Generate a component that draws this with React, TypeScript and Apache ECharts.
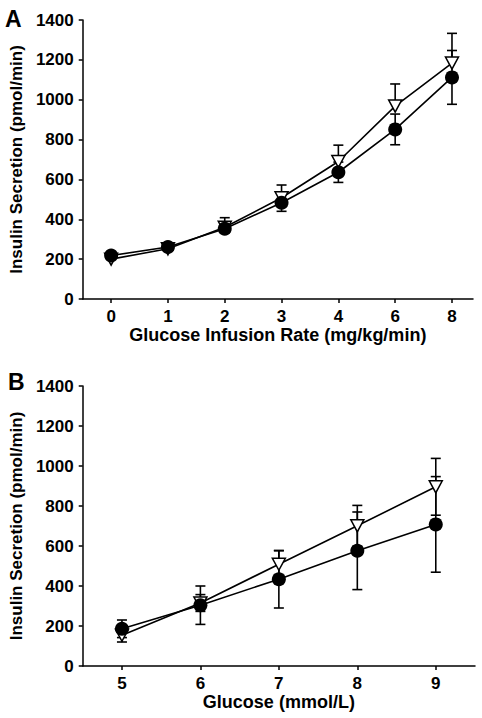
import React, { useEffect, useRef } from "react";
import * as echarts from "echarts";

const catsA = ["0", "1", "2", "3", "4", "6", "8"];
const aCircle = [218, 261, 353, 483, 636, 851, 1112];
const aCircleErr = [10, 12, 20, 43, 51, 77, 135];
const aTri = [200, 252, 360, 508, 690, 968, 1184];
const aTriErr = [8, 10, 48, 64, 82, 111, 149];

const xB = [5, 6, 7, 8, 9];
const bCircle = [186, 304, 434, 576, 708];
const bCircleErr = [44, 96, 144, 194, 239];
const bTri = [154, 315, 509, 701, 896];
const bTriErr = [34, 42, 67, 102, 142];

const yTicks = [0, 200, 400, 600, 800, 1000, 1200, 1400];

const FONT = "Liberation Sans, Arial, sans-serif";
const FS = 17;
const TRI = "path://M0,0 L12,0 L6,11 Z";

export default function App() {
  const ref = useRef<HTMLDivElement>(null);
  useEffect(() => {
    const chart = echarts.init(ref.current!, null, { renderer: "svg" });
    const xsA = catsA.map((_, i) => i);

    const errSeries = (
      xs: number[],
      ys: number[],
      errs: number[],
      upperOnly: boolean,
      idx: number
    ) => ({
      type: "custom",
      xAxisIndex: idx,
      yAxisIndex: idx,
      z: 1,
      silent: true,
      data: xs.map((x, i) => [x, ys[i], upperOnly ? ys[i] : ys[i] - errs[i], ys[i] + errs[i]]),
      renderItem: (params: any, api: any) => {
        const x = api.value(0);
        const lo = api.coord([x, api.value(2)]);
        const hi = api.coord([x, api.value(3)]);
        const style = { stroke: "#000", lineWidth: 1.6 };
        const cw = 5;
        const children: any[] = [
          { type: "line", shape: { x1: lo[0], y1: lo[1], x2: hi[0], y2: hi[1] }, style },
          { type: "line", shape: { x1: hi[0] - cw, y1: hi[1], x2: hi[0] + cw, y2: hi[1] }, style },
        ];
        if (!upperOnly) {
          children.push({ type: "line", shape: { x1: lo[0] - cw, y1: lo[1], x2: lo[0] + cw, y2: lo[1] }, style });
        }
        return { type: "group", children };
      },
    });

    const yAxisCommon = {
      type: "value",
      min: 0,
      max: 1400,
      interval: 200,
      name: "Insulin Secretion (pmol/min)",
      nameLocation: "middle",
      nameGap: 56,
      nameTextStyle: { fontFamily: FONT, fontWeight: "bold", fontSize: FS, color: "#000" },
      axisLine: { show: true, onZero: false, lineStyle: { color: "#000", width: 1.5 } },
      axisTick: { show: true, length: 4, lineStyle: { color: "#000", width: 1.5 } },
      axisLabel: {
        margin: 9,
        fontFamily: FONT,
        fontWeight: "bold",
        fontSize: FS,
        color: "#000",
        customValues: yTicks,
        formatter: (v: number) => String(v),
      },
      splitLine: { show: false },
    };

    const xAxisCommon = {
      type: "value",
      nameLocation: "middle",
      nameGap: 27,
      nameTextStyle: { fontFamily: FONT, fontWeight: "bold", fontSize: 18, color: "#000" },
      axisLine: { show: true, onZero: false, lineStyle: { color: "#000", width: 1.5 } },
      axisTick: { show: true, length: 4, lineStyle: { color: "#000", width: 1.5 } },
      splitLine: { show: false },
    };

    chart.setOption({
      animation: false,
      backgroundColor: "#fff",
      grid: [
        { left: 81, top: 20, width: 392, height: 279 },
        { left: 79, top: 386, width: 396, height: 280 },
      ],
      xAxis: [
        {
          ...xAxisCommon,
          gridIndex: 0,
          min: -0.5,
          max: 6.37,
          name: "Glucose Infusion Rate (mg/kg/min)",
          axisTick: { ...xAxisCommon.axisTick, customValues: xsA },
          axisLabel: {
            margin: 9,
            fontFamily: FONT,
            fontWeight: "bold",
            fontSize: FS,
            color: "#000",
            customValues: xsA,
            formatter: (v: number) => catsA[Math.round(v)],
          },
        },
        {
          ...xAxisCommon,
          gridIndex: 1,
          min: 4.5,
          max: 9.5,
          name: "Glucose (mmol/L)",
          axisTick: { ...xAxisCommon.axisTick, customValues: xB },
          axisLabel: {
            margin: 9,
            fontFamily: FONT,
            fontWeight: "bold",
            fontSize: FS,
            color: "#000",
            customValues: xB,
            formatter: (v: number) => String(v),
          },
        },
      ],
      yAxis: [
        { ...yAxisCommon, gridIndex: 0 },
        { ...yAxisCommon, gridIndex: 1 },
      ],
      graphic: [
        { type: "text", left: 5, top: 7, style: { text: "A", fontFamily: FONT, fontWeight: "bold", fontSize: 23, fill: "#000" } },
        { type: "text", left: 8, top: 370, style: { text: "B", fontFamily: FONT, fontWeight: "bold", fontSize: 23, fill: "#000" } },
      ],
      series: [
        errSeries(xsA, aTri, aTriErr, true, 0),
        errSeries(xsA, aCircle, aCircleErr, false, 0),
        errSeries(xB, bTri, bTriErr, false, 1),
        errSeries(xB, bCircle, bCircleErr, false, 1),
        {
          type: "line",
          xAxisIndex: 0,
          yAxisIndex: 0,
          z: 2,
          data: xsA.map((x, i) => [x, aTri[i]]),
          symbol: TRI,
          symbolSize: [13, 12],
          lineStyle: { color: "#000", width: 1.6 },
          itemStyle: { color: "#fff", borderColor: "#000", borderWidth: 1.5 },
        },
        {
          type: "line",
          xAxisIndex: 0,
          yAxisIndex: 0,
          z: 3,
          data: xsA.map((x, i) => [x, aCircle[i]]),
          symbol: "circle",
          symbolSize: 14,
          lineStyle: { color: "#000", width: 1.6 },
          itemStyle: { color: "#000", borderColor: "#000", borderWidth: 0 },
        },
        {
          type: "line",
          xAxisIndex: 1,
          yAxisIndex: 1,
          z: 2,
          data: xB.map((x, i) => [x, bTri[i]]),
          symbol: TRI,
          symbolSize: [13, 12],
          lineStyle: { color: "#000", width: 1.6 },
          itemStyle: { color: "#fff", borderColor: "#000", borderWidth: 1.5 },
        },
        {
          type: "line",
          xAxisIndex: 1,
          yAxisIndex: 1,
          z: 3,
          data: xB.map((x, i) => [x, bCircle[i]]),
          symbol: "circle",
          symbolSize: 14,
          lineStyle: { color: "#000", width: 1.6 },
          itemStyle: { color: "#000", borderColor: "#000", borderWidth: 0 },
        },
      ],
    });
    return () => chart.dispose();
  }, []);
  return <div ref={ref} style={{ position: "fixed", left: 0, top: 0, width: 482, height: 718 }} />;
}
